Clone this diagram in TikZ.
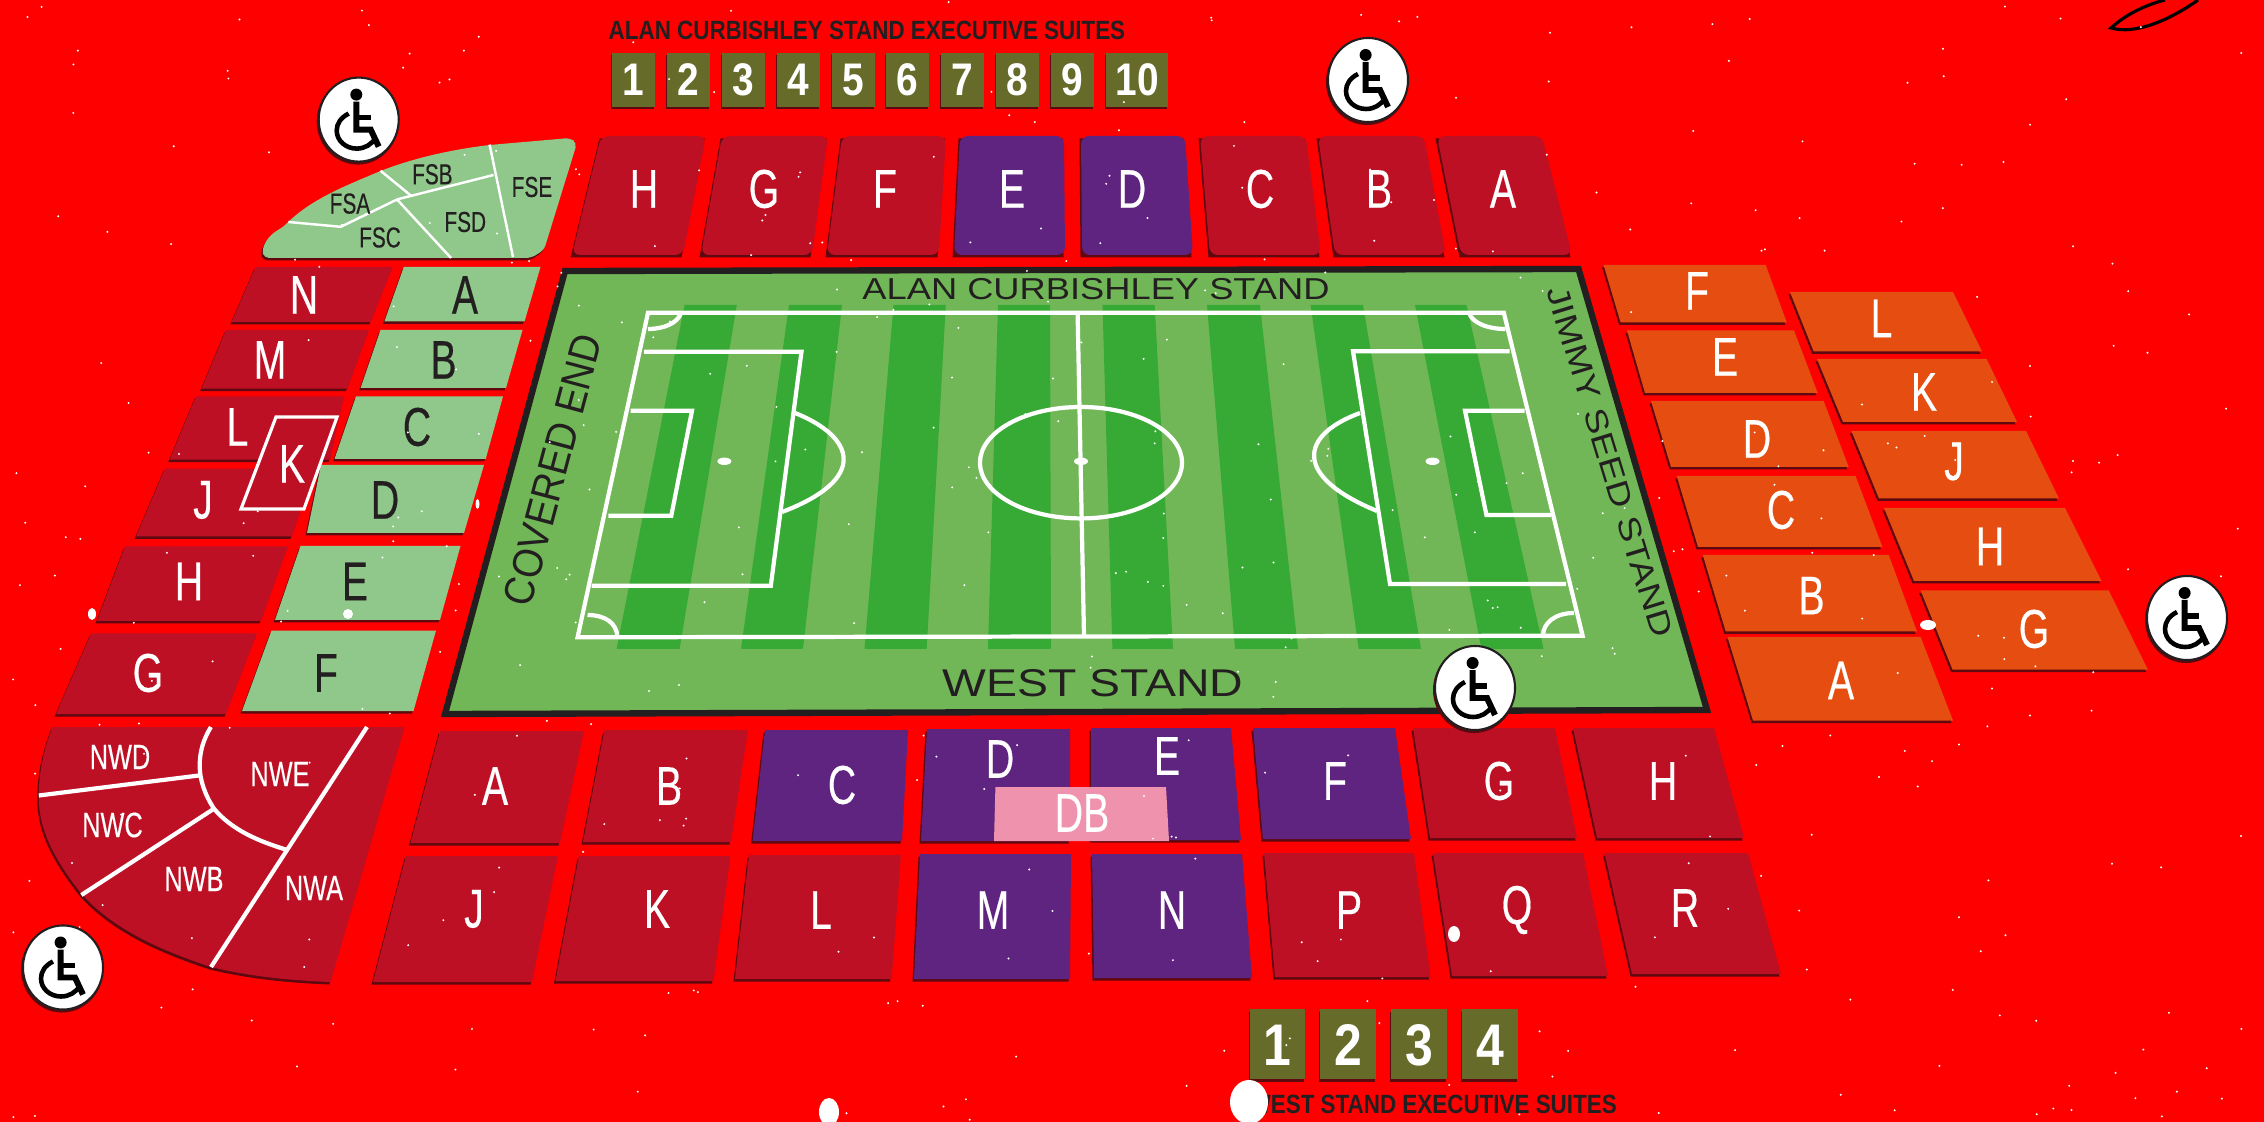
\documentclass[tikz,border=0pt]{standalone}
\usepackage{fontspec}
\setmainfont{Liberation Sans}
\newfontfamily\seatfont[FakeStretch=0.72,FakeBold=0.3]{Liberation Sans}
\newfontfamily\suitefont[FakeStretch=0.85]{Liberation Sans}
\newfontfamily\wordfont[FakeStretch=1.2]{Liberation Sans}
\newfontfamily\sidefont[FakeStretch=0.9]{Liberation Sans}
\definecolor{ground}{RGB}{255,0,0}
\definecolor{crimson}{RGB}{189,16,37}
\definecolor{plum}{RGB}{94,36,128}
\definecolor{blush}{RGB}{239,146,174}
\definecolor{ember}{RGB}{229,78,16}
\definecolor{sage}{RGB}{144,200,139}
\definecolor{turf}{RGB}{113,183,87}
\definecolor{stripe}{RGB}{55,169,53}
\definecolor{olive}{RGB}{102,107,42}
\definecolor{ink}{RGB}{35,31,32}
\definecolor{undertone}{RGB}{96,8,16}
\tikzset{
  seatlab/.style={text=white, inner sep=0pt, font=\seatfont\fontsize{15.5}{16}\selectfont},
  seatdark/.style={seatlab, text=ink},
  tinylab/.style={text=ink, inner sep=0pt, font=\seatfont\fontsize{8.2}{9}\selectfont},
  nwlab/.style={text=white, inner sep=0pt, font=\seatfont\fontsize{10}{11}\selectfont},
  suitelab/.style={text=white, inner sep=0pt, font=\suitefont\bfseries\fontsize{13}{14}\selectfont},
  suitebig/.style={suitelab, font=\suitefont\bfseries\fontsize{16.7}{17}\selectfont},
  suitehead/.style={text=ink, inner sep=0pt, anchor=west, font=\suitefont\bfseries\fontsize{7.5}{8}\selectfont},
  standlab/.style={text=ink, inner sep=0pt, font=\wordfont\fontsize{8.6}{9}\selectfont},
  sidelab/.style={text=ink, inner sep=0pt, font=\sidefont\fontsize{12}{12}\selectfont},
  chalk/.style={draw=white, line width=1.2pt},
  famline/.style={draw=white, line width=0.7pt},
  splitline/.style={draw=white, line width=1.2pt},
  wheel/.pic={
    \fill[undertone] (-1,2) ellipse[x radius=0.41cm,y radius=0.43cm];
    \fill[white,draw=ink,line width=0.6pt] (0,0) ellipse[x radius=0.4cm,y radius=0.42cm];
    \fill[black] (-2.4,-25) circle[radius=0.06cm];
    \draw[black,line width=1.7pt] (-2.4,-18)--(-2.4,10)--(12,10)--(20,27);
    \draw[black,line width=1.5pt] (-2.4,-2)--(12,-2);
    \draw[black,line width=1.3pt] (-10,-6) .. controls (-18,-2) and (-22,4) .. (-22,11)
      .. controls (-22,21) and (-13,29) .. (-2,29) .. controls (6,29) and (13,25) .. (17,18);
  },
}
\newcommand{\block}[2]{\fill[undertone,shift={(-1.5,2.5)}] #2; \fill[#1] #2;}

\begin{document}
\begin{tikzpicture}[x=0.01cm,y=-0.01cm]
    \useasboundingbox (0,0) rectangle (2264,1122);
    \fill[ground] (0,0) rectangle (2264,1122);
    \draw[black,line width=0.9pt] (2198,0) .. controls (2170,20) and (2135,35) .. (2111,28) .. controls (2125,15) and (2145,5) .. (2165,0);
    % executive suites
    \node[suitehead] (topsuites) at (608,30) {ALAN CURBISHLEY STAND EXECUTIVE SUITES};
    \foreach \xa/\xb/\lab in {612/655/1,667/710/2,722/765/3,777/820/4,832/875/5,886/929/6,941/984/7,996/1039/8,1051/1094/9,1106/1168/10} {
      \block{olive}{(\xa,53) rectangle (\xb,107)}
      \node[suitelab] (suite\lab) at ({(\xa+\xb)/2},80) {\lab};
    }
    \foreach \xa/\xb/\lab in {1250/1305/1,1320/1376/2,1391/1447/3,1462/1518/4} {
      \block{olive}{(\xa,1009) rectangle (\xb,1079)}
      \node[suitebig] (west\lab) at ({(\xa+\xb)/2},1045) {\lab};
    }
    \node[suitehead] (westsuites) at (1249,1104) {WEST STAND EXECUTIVE SUITES};
    % north row
    \foreach \xa/\xb/\xc/\xd/\lx/\lab/\col in {601/706/683/572/644/H/crimson,722/828/812/701/764/G/crimson,842/946/939/827/885/F/crimson,960/1064/1065/954/1012/E/plum,1081/1185/1193/1082/1132/D/plum,1200/1306/1321/1210/1260/C/crimson,1318/1424/1446/1335/1379/B/crimson,1437/1542/1572/1461/1503/A/crimson} {
      \block{fill=\col,rounded corners=0.08cm}{(\xa,136) -- (\xb,136) -- (\xc,255) -- (\xd,255) -- cycle}
      \node[seatlab] (north\lab) at (\lx,189) {\lab};
    }
    % covered end
    \foreach \xa/\xb/\xc/\xd/\ya/\yb/\lx/\ly/\lab in {255.5/392.6/370.8/231.7/267/322/304/295/N,226/369/347.5/201.6/330/388.6/270/360/M,196/344/330/169.7/396.4/459.6/237.5/427/L,165/315/292/136/468.6/536.4/203/500/J,125/288/261/97/546.4/621/189/581.5/H,91/257/226/56/633.5/714/148/673/G} {
      \block{crimson}{(\xa,\ya) -- (\xb,\ya) -- (\xc,\yb) -- (\xd,\yb) -- cycle}
      \node[seatlab] (end\lab) at (\lx,\ly) {\lab};
    }
    \foreach \xa/\xb/\xc/\xd/\ya/\yb/\lx/\ly/\lab in {403.8/540.5/524.5/384.4/267/321.5/465/295/A,380.5/522.5/506/360.6/330/388/443.5/360/B,356/503/485.7/334.5/396.4/459/417/427/C,321/484/464/307/465/533/385/500/D,300.5/460.5/440/275/546/620/355/581.5/E,271.5/436/413.5/242/630.6/711/326/673/F} {
      \block{sage}{(\xa,\ya) -- (\xb,\ya) -- (\xc,\yb) -- (\xd,\yb) -- cycle}
      \node[seatdark] (inner\lab) at (\lx,\ly) {\lab};
    }
    \filldraw[crimson,draw=white,line width=0.9pt] (276,417) -- (337,417) -- (304,509) -- (241,509) -- cycle;
    \node[seatlab] (endK) at (292,464) {K};
    % family corner
    \block{sage}{(264,258) [rounded corners=0.05cm] -- (262,250) .. controls (270,232) and (280,230) .. (288,222) .. controls (315,198) and (345,186) .. (380.5,171) .. controls (415,158) and (450,150) .. (489.6,145) -- (570,138) -- (577,143) -- (544,250) [rounded corners=0.05cm] -- (531,258) -- cycle}
    \draw[famline] (489.6,144.6) -- (513,257);
    \draw[famline] (288.4,222) -- (340.8,226.8) -- (397.5,199.3) -- (493.5,175);
    \draw[famline] (380.5,170.7) -- (411,195.7);
    \draw[famline] (397.5,200) -- (451,258);
    \foreach \lx/\ly/\lab in {350/203.6/FSA,432.4/174.3/FSB,380/237.5/FSC,465.3/222/FSD,532/187/FSE}
      \node[tinylab] (fam\lab) at (\lx,\ly) {\lab};
    % north west corner
    \block{crimson}{(52.4,727) -- (404.7,727) -- (330.6,982) .. controls (280,980) and (245,975) .. (211,967) .. controls (160,950) and (115,930) .. (82.4,895) .. controls (55,860) and (38,830) .. (38.8,794.8) .. controls (39,770) and (44,750) .. (52.4,727) -- cycle}
    \draw[splitline] (38.8,795.5) -- (199.7,775.4);
    \draw[splitline] (81.4,895) -- (214,808.7);
    \draw[splitline] (210.9,727) .. controls (203,740) and (199.7,752) .. (199.7,766) .. controls (199.7,780) and (205,795) .. (214,808.7) .. controls (232,830) and (258,841) .. (286,849.6);
    \draw[splitline] (367,727) -- (211,967);
    \foreach \lx/\ly/\lab in {120/757/NWD,112.5/825/NWC,194/879/NWB,280/774/NWE,314/888/NWA}
      \node[nwlab] (nw\lab) at (\lx,\ly) {\lab};
    % pitch
    \filldraw[turf,draw=ink,line width=1.8pt] (565,271) -- (1578.5,269) -- (1707,710) -- (445,714) -- cycle;
    \foreach \ta/\tb/\ba/\bb in {684.6/736.8/616.6/679.6,789/842/741/803,893.5/945.8/864.5/926.7,998/1050/988/1051,1102.5/1154.7/1112.4/1173,1207/1260/1235/1298,1310.6/1363/1358.7/1421,1415/1466.5/1481.4/1543.6}
      \fill[stripe] (\ta,305) -- (\tb,305) -- (\bb,649) -- (\ba,649) -- cycle;
    \draw[chalk] (648,312.7) -- (1503.8,312.7) -- (1582.6,635.7) -- (577.6,637.3) -- cycle;
    \draw[chalk] (1077.6,312.7) -- (1084,636);
    \draw[chalk] (644,351.7) -- (801.5,351.7) -- (770.8,585.7) -- (591.7,585.7);
    \draw[chalk] (630.7,410.7) -- (692,410.7) -- (671.3,515.7) -- (608.3,515.7);
    \draw[chalk] (1509.6,351.3) -- (1353,351.3) -- (1390,584) -- (1566,584);
    \draw[chalk] (1524.5,410.7) -- (1465,410.7) -- (1486.4,515) -- (1551,515);
    \draw[chalk] (1081,462.7) ellipse[x radius=1.01cm,y radius=0.557cm];
    \draw[chalk] (795,413) .. controls (855,437) and (869,479) .. (782,512);
    \draw[chalk] (1360,413) .. controls (1300,435) and (1292,476) .. (1377,511);
    \draw[chalk] (681,312.7) .. controls (678,323) and (664,329) .. (648,329);
    \draw[chalk] (1469,312.7) .. controls (1472,323) and (1488,329) .. (1505.5,329);
    \draw[chalk] (587.5,615) .. controls (605,615) and (617,623) .. (617.4,637.3);
    \draw[chalk] (1574,613) .. controls (1555,613) and (1543,623) .. (1543,635.7);
    \foreach \x in {724.4,1081,1432.5}
      \fill[white] (\x,461.3) ellipse[x radius=0.07cm,y radius=0.037cm];
    \node[standlab] (alanstand) at (1096,289) {ALAN CURBISHLEY STAND};
    \node[standlab,font=\wordfont\fontsize{11}{11}\selectfont] (weststand) at (1093,683) {WEST STAND};
    \node[sidelab,rotate=75] (coveredend) at (553,470) {COVERED END};
    \node[standlab,rotate=-73,font=\wordfont\fontsize{8.9}{9}\selectfont] (jimmystand) at (1610,462) {JIMMY SEED STAND};
    % west stand
    \foreach \xa/\xb/\xc/\xd/\ya/\yb/\lx/\ly/\lab/\col in {440/584/560/410.5/731/843/495/786/A/crimson,604.5/748/731/583/730/842/669/786/B/crimson,765/908/902/752.6/730/841/842/785/C/plum,1413/1555/1577/1430/728/838/1499/781/G/crimson,1573/1714/1744/1597/728/838/1663/781/H/crimson,1253/1395/1411/1263/728/839/1335/781/F/plum,406/558/532/373/856/982/474/909/J/crimson,579/730.5/713.5/555.5/856/981/657/909/K/crimson,749/901/891.6/735/855/979/821/910/L/crimson,920/1071/1070/914/854/979/993/910/M/plum,1092/1242/1252/1094/854/978/1172/910/N/plum,1264/1414/1430.5/1275/853/977/1349/910/P/crimson,1433/1583/1608/1452/853/976/1517/910/Q/crimson,1604.5/1748/1781/1632/853/974/1685/908/R/crimson} {
      \block{fill=\col}{(\xa,\ya) -- (\xb,\ya) -- (\xc,\yb) -- (\xd,\yb) -- cycle}
      \node[seatlab] (west\lab) at (\lx,\ly) {\lab};
    }
    \block{plum}{(927,729) -- (1070,729) -- (1070,841) -- (921,841) -- cycle}
    \block{plum}{(1091,728) -- (1231,728) -- (1241,840) -- (1091,840) -- cycle}
    \fill[blush] (995.4,787) -- (1166,787) -- (1169,841) -- (994,841) -- cycle;
    \foreach \lx/\ly/\lab in {1000/759/D,1167/756/E,1082/813/DB}
      \node[seatlab] (west\lab) at (\lx,\ly) {\lab};
    % jimmy seed stand
    \foreach \xa/\xb/\xc/\xd/\ya/\yb/\lx/\ly/\lab in {1603.6/1765.7/1786.8/1620.6/265/322.5/1697/291/F,1627/1794/1817.7/1645/330.5/393/1725/357/E,1651/1823.6/1848.7/1671/401/467/1757/439/D,1676.7/1855.5/1882.4/1698/476/547/1781/510/C,1702.8/1888.7/1917/1725.7/555/631.5/1811.5/595.6/B,1727.5/1920.6/1953/1753/637/720.5/1841/680.5/A,1790/1953/1982/1813.7/292/351.5/1881.5/318.5/L,1817/1986.6/2017/1843/359/422/1924/392/K,1851.4/2026/2059/1879/431/498.5/1954/461.5/J,1884/2065/2101.5/1914/508/581/1990/546.5/H,1920.6/2108.7/2147.8/1952.5/590.5/669.5/2034/629/G} {
      \block{ember}{(\xa,\ya) -- (\xb,\ya) -- (\xc,\yb) -- (\xd,\yb) -- cycle}
      \node[seatlab] (jimmy\lab) at (\lx,\ly) {\lab};
    }
    % scuffs
    \pgfmathsetseed{11}
    \foreach \i in {1,...,450}
      \fill[white] ({rnd*2264},{rnd*1122}) circle[radius=0.011cm];
    \foreach \x/\y/\rx/\ry in {92/614/4/6,348/614/5/5,477.5/504/2/5,1454/934/6/8,1928/625/8/5,829/1112/10/14,1249/1102/19/22}
      \fill[white] (\x,\y) ellipse[x radius=\rx*0.01cm,y radius=\ry*0.01cm];
    % wheelchair badges
    \foreach \x/\y in {358.7/119.6,1368/80,63/967.5,2187/618,1475/688}
      \pic at (\x,\y) {wheel};
\end{tikzpicture}
\end{document}
